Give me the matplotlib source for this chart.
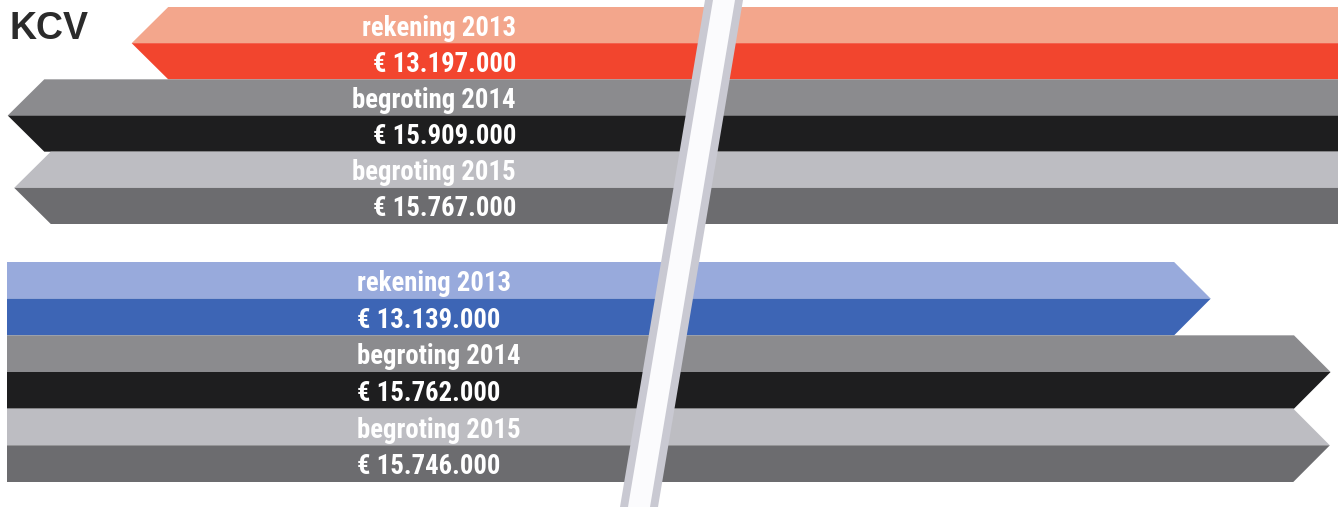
import matplotlib
matplotlib.use("Agg")
import matplotlib.pyplot as plt
from matplotlib.patches import Polygon
from matplotlib import font_manager as fm

# ---------------- data ----------------
title = "KCV"
top_labels = ["rekening 2013", "begroting 2014", "begroting 2015"]
top_values = [13.197, 15.909, 15.767]          # million euro
top_value_text = ["€ 13.197.000", "€ 15.909.000", "€ 15.767.000"]

bottom_labels = ["rekening 2013", "begroting 2014", "begroting 2015"]
bottom_values = [13.139, 15.762, 15.746]       # million euro
bottom_value_text = ["€ 13.139.000", "€ 15.762.000", "€ 15.746.000"]

# ---------------- style ----------------
top_colors = [("#f3a68c", "#f2452e"), ("#8b8b8e", "#1e1e1f"), ("#bdbdc2", "#6c6c6f")]
bottom_colors = [("#98aadc", "#3d65b5"), ("#8b8b8e", "#1e1e1f"), ("#bdbdc2", "#6c6c6f")]
W, H = 1338, 507
SCALE = 45.7      # pixels per million (display)
PAD = 13.2        # broken-axis offset (million)
DEPTH = 0.8       # arrow-head depth (million)

installed = {f.name for f in fm.fontManager.ttflist}
cond = next((n for n in ["Roboto Condensed", "Barlow Condensed", "Asap Condensed"] if n in installed), "DejaVu Sans")
FONT = [cond, "DejaVu Sans"]
FS = 19.3

fig = plt.figure(figsize=(W / 100, H / 100), dpi=100)
fig.patch.set_facecolor("white")


def px_box(x0, y0, x1, y1):
    return [x0 / W, 1 - y1 / H, (x1 - x0) / W, (y1 - y0) / H]


def draw_arrow(ax, i, length, light, dark):
    top, mid, bot = i, i + 0.5, i + 1
    body = length - DEPTH
    ax.add_patch(Polygon([(0, top), (body, top), (length, mid), (0, mid)],
                         closed=True, facecolor=light, edgecolor="none"))
    ax.add_patch(Polygon([(0, mid), (length, mid), (body, bot), (0, bot)],
                         closed=True, facecolor=dark, edgecolor="none"))


# top section: arrows pointing left
ax_top = fig.add_axes(px_box(0, 7, W, 224))
ax_top.set_xlim(W / SCALE, 0)
ax_top.set_ylim(3, 0)
ax_top.axis("off")
for i, (v, lab, vt, (c1, c2)) in enumerate(zip(top_values, top_labels, top_value_text, top_colors)):
    draw_arrow(ax_top, i, v + PAD, c1, c2)
    for frac, s in ((0.25, lab), (0.75, vt)):
        ax_top.text(516 / W, 1 - (i + frac) / 3, s, transform=ax_top.transAxes,
                    ha="right", va="center_baseline", color="white", fontsize=FS,
                    fontweight="bold", family=FONT)

# bottom section: arrows pointing right
ax_bot = fig.add_axes(px_box(7, 262, W, 482))
ax_bot.set_xlim(0, (W - 7) / SCALE)
ax_bot.set_ylim(3, 0)
ax_bot.axis("off")
for i, (v, lab, vt, (c1, c2)) in enumerate(zip(bottom_values, bottom_labels, bottom_value_text, bottom_colors)):
    draw_arrow(ax_bot, i, v + PAD, c1, c2)
    for frac, s in ((0.25, lab), (0.75, vt)):
        ax_bot.text((357 - 7) / (W - 7), 1 - (i + frac) / 3, s, transform=ax_bot.transAxes,
                    ha="left", va="center_baseline", color="white", fontsize=FS,
                    fontweight="bold", family=FONT)

# title
fig.text(10 / W, 1 - 29 / H, title, ha="left", va="center", fontsize=27,
         fontweight="bold", color="#2b2b2b", family=["Liberation Sans", "DejaVu Sans"])

# axis-break band
def band(xt, xb, w, color, z):
    pts = [(xt / W, 1.0), ((xt + w) / W, 1.0), ((xb + w) / W, 0.0), (xb / W, 0.0)]
    fig.add_artist(Polygon(pts, closed=True, facecolor=color, edgecolor="none",
                           transform=fig.transFigure, zorder=z))

band(705, 620, 38, "#c9c9d2", 10)
band(713, 628, 22, "#fbfbfd", 11)

fig.savefig("out.png", dpi=100, facecolor="white")
